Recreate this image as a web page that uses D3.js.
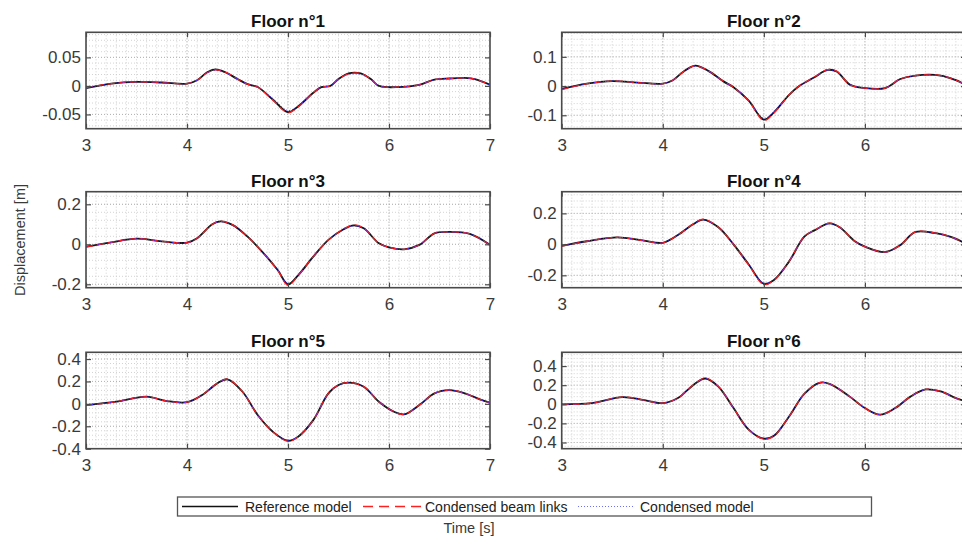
<!DOCTYPE html>
<html>
<head>
<meta charset="utf-8">
<script src="https://cdn.jsdelivr.net/npm/d3@7"></script>
<style>
  html, body { margin: 0; padding: 0; background: #fff; overflow: hidden; }
  svg { display: block; font-family: "Liberation Sans", Arial, sans-serif; }
</style>
</head>
<body>
<svg id="chart" width="962" height="559"></svg>
<script>
// Floor displacement time histories (t in s, displacement in m)
const floorTitles = ["Floor n°1", "Floor n°2", "Floor n°3", "Floor n°4", "Floor n°5", "Floor n°6"];
const seriesNames = ["Reference model", "Condensed beam links", "Condensed model"];
const xTicks = [3, 4, 5, 6, 7];

const yLimits = [
  [-0.075, 0.094], [-0.146, 0.184],
  [-0.217, 0.263], [-0.28, 0.34],
  [-0.4, 0.46], [-0.465, 0.544]
];
const yTicks = [
  [-0.05, 0, 0.05], [-0.1, 0, 0.1],
  [-0.2, 0, 0.2], [-0.2, 0, 0.2],
  [-0.4, -0.2, 0, 0.2, 0.4], [-0.4, -0.2, 0, 0.2, 0.4]
];

const floor1Time = [3, 3.25, 3.5, 3.75, 4.0, 4.1, 4.2, 4.28, 4.38, 4.5, 4.6, 4.7, 4.85, 5.0, 5.1, 5.25, 5.33, 5.42, 5.5, 5.6, 5.72, 5.82, 5.9, 6.1, 6.3, 6.45, 6.6, 6.75, 6.85, 7.0];
const floor1Ref  = [-0.004, 0.004, 0.007, 0.006, 0.004, 0.01, 0.024, 0.029, 0.024, 0.012, 0.003, -0.002, -0.024, -0.046, -0.036, -0.012, -0.002, 0.0, 0.012, 0.022, 0.022, 0.012, 0.0, -0.002, 0.002, 0.011, 0.013, 0.014, 0.012, 0.002];
const floor1Beam = [-0.003, 0.004, 0.007, 0.006, 0.004, 0.01, 0.023, 0.028, 0.024, 0.012, 0.003, -0.002, -0.025, -0.047, -0.037, -0.012, -0.002, 0.0, 0.012, 0.021, 0.022, 0.012, 0.0, -0.002, 0.002, 0.011, 0.013, 0.014, 0.012, 0.002];
const floor1Cond = [-0.004, 0.004, 0.007, 0.006, 0.004, 0.01, 0.023, 0.028, 0.023, 0.012, 0.003, -0.002, -0.022, -0.043, -0.035, -0.012, -0.002, 0.0, 0.012, 0.02, 0.02, 0.011, 0.0, -0.002, 0.002, 0.011, 0.013, 0.014, 0.012, 0.002];

const floor2Time = [3, 3.25, 3.5, 3.75, 4.0, 4.1, 4.2, 4.32, 4.45, 4.6, 4.7, 4.85, 5.0, 5.1, 5.25, 5.35, 5.5, 5.63, 5.72, 5.85, 6.0, 6.2, 6.35, 6.5, 6.75, 6.9, 7.0];
const floor2Ref  = [-0.01, 0.008, 0.017, 0.012, 0.008, 0.02, 0.048, 0.07, 0.052, 0.016, -0.004, -0.05, -0.115, -0.09, -0.03, 0.0, 0.03, 0.055, 0.05, 0.005, -0.007, -0.007, 0.024, 0.036, 0.036, 0.02, 0.004];
const floor2Beam = [-0.012, 0.008, 0.017, 0.012, 0.008, 0.02, 0.048, 0.069, 0.052, 0.016, -0.004, -0.051, -0.118, -0.092, -0.03, 0.0, 0.031, 0.056, 0.051, 0.005, -0.007, -0.007, 0.024, 0.036, 0.036, 0.02, 0.003];
const floor2Cond = [-0.01, 0.008, 0.017, 0.012, 0.008, 0.02, 0.047, 0.068, 0.051, 0.016, -0.004, -0.048, -0.11, -0.087, -0.03, 0.0, 0.03, 0.053, 0.048, 0.005, -0.007, -0.007, 0.024, 0.035, 0.035, 0.02, 0.004];

const floor3Time = [3, 3.25, 3.5, 3.75, 4.0, 4.1, 4.25, 4.33, 4.45, 4.6, 4.75, 4.9, 5.0, 5.1, 5.25, 5.4, 5.55, 5.65, 5.75, 5.9, 6.0, 6.15, 6.3, 6.45, 6.6, 6.8, 7.0];
const floor3Ref  = [-0.012, 0.01, 0.028, 0.015, 0.008, 0.03, 0.1, 0.115, 0.097, 0.038, -0.04, -0.13, -0.2, -0.155, -0.062, 0.022, 0.075, 0.095, 0.08, 0.005, -0.015, -0.025, -0.003, 0.055, 0.062, 0.052, -0.003];
const floor3Beam = [-0.014, 0.01, 0.028, 0.015, 0.008, 0.03, 0.1, 0.116, 0.097, 0.038, -0.04, -0.132, -0.205, -0.157, -0.062, 0.022, 0.076, 0.097, 0.081, 0.005, -0.015, -0.025, -0.003, 0.055, 0.062, 0.052, -0.004];
const floor3Cond = [-0.012, 0.01, 0.028, 0.015, 0.008, 0.03, 0.099, 0.113, 0.096, 0.038, -0.04, -0.128, -0.196, -0.153, -0.062, 0.022, 0.074, 0.092, 0.078, 0.005, -0.015, -0.025, -0.003, 0.054, 0.061, 0.052, -0.003];

const floor4Time = [3, 3.25, 3.55, 3.8, 4.0, 4.15, 4.3, 4.4, 4.55, 4.7, 4.85, 5.0, 5.1, 5.25, 5.4, 5.5, 5.65, 5.75, 5.9, 6.0, 6.2, 6.35, 6.5, 6.7, 6.85, 7.0];
const floor4Ref  = [-0.01, 0.02, 0.045, 0.025, 0.01, 0.06, 0.13, 0.16, 0.11, 0.0, -0.13, -0.255, -0.23, -0.11, 0.05, 0.09, 0.135, 0.11, 0.02, -0.015, -0.05, -0.005, 0.08, 0.072, 0.048, 0.005];
const floor4Beam = [-0.012, 0.02, 0.045, 0.025, 0.01, 0.06, 0.131, 0.162, 0.11, 0.0, -0.132, -0.26, -0.233, -0.11, 0.05, 0.091, 0.137, 0.111, 0.02, -0.015, -0.05, -0.005, 0.08, 0.072, 0.048, 0.004];
const floor4Cond = [-0.01, 0.02, 0.045, 0.025, 0.01, 0.06, 0.129, 0.158, 0.109, 0.0, -0.128, -0.25, -0.227, -0.11, 0.05, 0.089, 0.133, 0.109, 0.02, -0.015, -0.05, -0.005, 0.079, 0.071, 0.048, 0.005];

const floor5Time = [3, 3.3, 3.6, 3.8, 4.0, 4.15, 4.3, 4.4, 4.55, 4.7, 4.85, 5.0, 5.1, 5.25, 5.4, 5.5, 5.6, 5.75, 5.9, 6.05, 6.15, 6.3, 6.45, 6.6, 6.75, 6.9, 7.0];
const floor5Ref  = [-0.011, 0.019, 0.064, 0.025, 0.015, 0.079, 0.183, 0.219, 0.108, -0.1, -0.249, -0.329, -0.293, -0.145, 0.094, 0.168, 0.189, 0.153, 0.019, -0.07, -0.094, -0.011, 0.094, 0.123, 0.094, 0.04, 0.01];
const floor5Beam = [-0.013, 0.019, 0.064, 0.025, 0.015, 0.079, 0.184, 0.221, 0.108, -0.1, -0.251, -0.333, -0.295, -0.145, 0.094, 0.169, 0.19, 0.154, 0.019, -0.07, -0.095, -0.011, 0.094, 0.123, 0.094, 0.04, 0.009];
const floor5Cond = [-0.011, 0.019, 0.063, 0.025, 0.015, 0.078, 0.182, 0.217, 0.107, -0.1, -0.247, -0.325, -0.29, -0.145, 0.093, 0.167, 0.187, 0.152, 0.019, -0.07, -0.093, -0.011, 0.093, 0.122, 0.094, 0.04, 0.01];

const floor6Time = [3, 3.3, 3.6, 3.8, 4.0, 4.15, 4.3, 4.42, 4.55, 4.7, 4.85, 5.0, 5.1, 5.25, 5.4, 5.55, 5.65, 5.85, 6.0, 6.15, 6.3, 6.45, 6.6, 6.75, 6.9, 7.0];
const floor6Ref  = [0.0, 0.012, 0.075, 0.047, 0.012, 0.065, 0.2, 0.27, 0.185, -0.04, -0.265, -0.36, -0.33, -0.127, 0.109, 0.225, 0.213, 0.08, -0.04, -0.109, -0.04, 0.08, 0.155, 0.134, 0.065, 0.03];
const floor6Beam = [-0.002, 0.012, 0.075, 0.047, 0.012, 0.065, 0.201, 0.272, 0.186, -0.04, -0.267, -0.364, -0.333, -0.128, 0.109, 0.226, 0.214, 0.08, -0.04, -0.11, -0.04, 0.08, 0.155, 0.134, 0.065, 0.029];
const floor6Cond = [0.0, 0.012, 0.074, 0.047, 0.012, 0.064, 0.199, 0.268, 0.184, -0.04, -0.263, -0.356, -0.327, -0.126, 0.108, 0.223, 0.212, 0.08, -0.04, -0.108, -0.04, 0.079, 0.154, 0.133, 0.065, 0.03];

const floorTimes = [floor1Time, floor2Time, floor3Time, floor4Time, floor5Time, floor6Time];
const floorSeries = [
  [floor1Ref, floor1Beam, floor1Cond],
  [floor2Ref, floor2Beam, floor2Cond],
  [floor3Ref, floor3Beam, floor3Cond],
  [floor4Ref, floor4Beam, floor4Cond],
  [floor5Ref, floor5Beam, floor5Cond],
  [floor6Ref, floor6Beam, floor6Cond]
];

// ---- layout ----
const svg = d3.select("#chart");
const colX = [[86, 490], [561.7, 966]];
const rowY = [[32.3, 128.7], [191.7, 287.7], [352.3, 448.7]];

const lineStyles = [
  { stroke: "#111", width: 1.8, dash: null },
  { stroke: "#ff2020", width: 1.3, dash: "7,4" },
  { stroke: "#3030ff", width: 1.0, dash: "1,2" }
];

const axisColor = "#4a4a4a";
const textColor = "#3a3a3a";

function fmt(v) { return String(+v.toFixed(4)); }

floorTitles.forEach((title, i) => {
  const col = i % 2, row = Math.floor(i / 2);
  const [x0, x1] = colX[col];
  const [y0, y1] = rowY[row];
  const x = d3.scaleLinear().domain([3, 7]).range([x0, x1]);
  const y = d3.scaleLinear().domain(yLimits[i]).range([y1, y0]);

  const g = svg.append("g");
  const clipId = "clip" + i;
  svg.append("clipPath").attr("id", clipId)
    .append("rect").attr("x", x0).attr("y", y0).attr("width", x1 - x0).attr("height", y1 - y0);

  // minor grid
  const xMinor = d3.range(30, 71).map(v => v / 10);
  const yt = yTicks[i];
  const yStep = yt[1] - yt[0];
  const yMinorStep = yStep / 5;
  const yMinor = [];
  for (let v = Math.ceil(yLimits[i][0] / yMinorStep) * yMinorStep; v <= yLimits[i][1] + 1e-9; v += yMinorStep) yMinor.push(v);

  const grid = g.append("g").attr("clip-path", `url(#${clipId})`);
  grid.selectAll("line.xm").data(xMinor).join("line")
    .attr("x1", d => x(d)).attr("x2", d => x(d)).attr("y1", y0).attr("y2", y1)
    .attr("stroke", "#c8c8c8").attr("stroke-width", 0.8).attr("stroke-dasharray", "1,2");
  grid.selectAll("line.ym").data(yMinor).join("line")
    .attr("y1", d => y(d)).attr("y2", d => y(d)).attr("x1", x0).attr("x2", x1)
    .attr("stroke", "#c8c8c8").attr("stroke-width", 0.8).attr("stroke-dasharray", "1,2");
  // major grid
  grid.selectAll("line.xM").data(xTicks).join("line")
    .attr("x1", d => x(d)).attr("x2", d => x(d)).attr("y1", y0).attr("y2", y1)
    .attr("stroke", "#b0b0b0").attr("stroke-width", 0.9).attr("stroke-dasharray", "1,2");
  grid.selectAll("line.yM").data(yt).join("line")
    .attr("y1", d => y(d)).attr("y2", d => y(d)).attr("x1", x0).attr("x2", x1)
    .attr("stroke", "#b0b0b0").attr("stroke-width", 0.9).attr("stroke-dasharray", "1,2");

  // data lines
  const times = floorTimes[i];
  const line = d3.line()
    .x(d => x(d[0])).y(d => y(d[1]))
    .curve(d3.curveCatmullRom.alpha(0.5));
  const plot = g.append("g").attr("clip-path", `url(#${clipId})`);
  floorSeries[i].forEach((vals, s) => {
    const st = lineStyles[s];
    plot.append("path")
      .datum(times.map((t, k) => [t, vals[k]]))
      .attr("d", line)
      .attr("fill", "none")
      .attr("stroke", st.stroke)
      .attr("stroke-width", st.width)
      .attr("stroke-dasharray", st.dash);
  });

  // axes (box with inward ticks on all sides)
  const tickLen = 5;
  const bottom = d3.axisBottom(x).tickValues(xTicks).tickSize(-tickLen).tickPadding(10).tickFormat(fmt);
  const top = d3.axisTop(x).tickValues(xTicks).tickSize(-tickLen).tickFormat("");
  const left = d3.axisLeft(y).tickValues(yt).tickSize(-tickLen).tickPadding(5).tickFormat(fmt);
  const right = d3.axisRight(y).tickValues(yt).tickSize(-tickLen).tickFormat("");

  const axes = [
    g.append("g").attr("transform", `translate(0,${y1})`).call(bottom),
    g.append("g").attr("transform", `translate(0,${y0})`).call(top),
    g.append("g").attr("transform", `translate(${x0},0)`).call(left),
    g.append("g").attr("transform", `translate(${x1},0)`).call(right)
  ];
  axes.forEach(a => {
    a.select(".domain").remove();
    a.selectAll(".tick line").attr("stroke", axisColor).attr("stroke-width", 1.2);
    a.selectAll(".tick text")
      .attr("fill", textColor)
      .style("font-size", "17px")
      .style("font-family", "'Liberation Sans', Arial, sans-serif");
  });

  g.append("rect")
    .attr("x", x0).attr("y", y0).attr("width", x1 - x0).attr("height", y1 - y0)
    .attr("fill", "none").attr("stroke", axisColor).attr("stroke-width", 1.6);

  g.append("text")
    .attr("x", (x0 + Math.min(x1, 966)) / 2).attr("y", y0 - 5)
    .attr("text-anchor", "middle")
    .attr("fill", "#111")
    .style("font-size", "17px").style("font-weight", "bold")
    .text(title);
});

// shared axis labels
svg.append("text")
  .attr("transform", "translate(25,240) rotate(-90)")
  .attr("text-anchor", "middle")
  .attr("fill", textColor)
  .style("font-size", "14.5px")
  .text("Displacement [m]");

svg.append("text")
  .attr("x", 469).attr("y", 533)
  .attr("text-anchor", "middle")
  .attr("fill", textColor)
  .style("font-size", "14.5px")
  .text("Time [s]");

// legend
const legend = svg.append("g");
legend.append("rect")
  .attr("x", 177.5).attr("y", 497).attr("width", 694).attr("height", 19)
  .attr("fill", "#fff").attr("stroke", "#555").attr("stroke-width", 1.3);

const legendItems = [
  { x1: 182, x2: 238, tx: 245 },
  { x1: 363, x2: 421, tx: 425 },
  { x1: 578, x2: 635, tx: 640 }
];
const legendDash = [null, "10,6", "1,2"];
seriesNames.forEach((name, s) => {
  const it = legendItems[s];
  const st = lineStyles[s];
  legend.append("line")
    .attr("x1", it.x1).attr("x2", it.x2).attr("y1", 506.5).attr("y2", 506.5)
    .attr("stroke", s === 2 ? "#7070ff" : st.stroke)
    .attr("stroke-width", s === 0 ? 1.3 : st.width)
    .attr("stroke-dasharray", legendDash[s]);
  legend.append("text")
    .attr("x", it.tx).attr("y", 511.5)
    .attr("fill", "#222")
    .style("font-size", "14px")
    .text(name);
});
</script>
</body>
</html>
